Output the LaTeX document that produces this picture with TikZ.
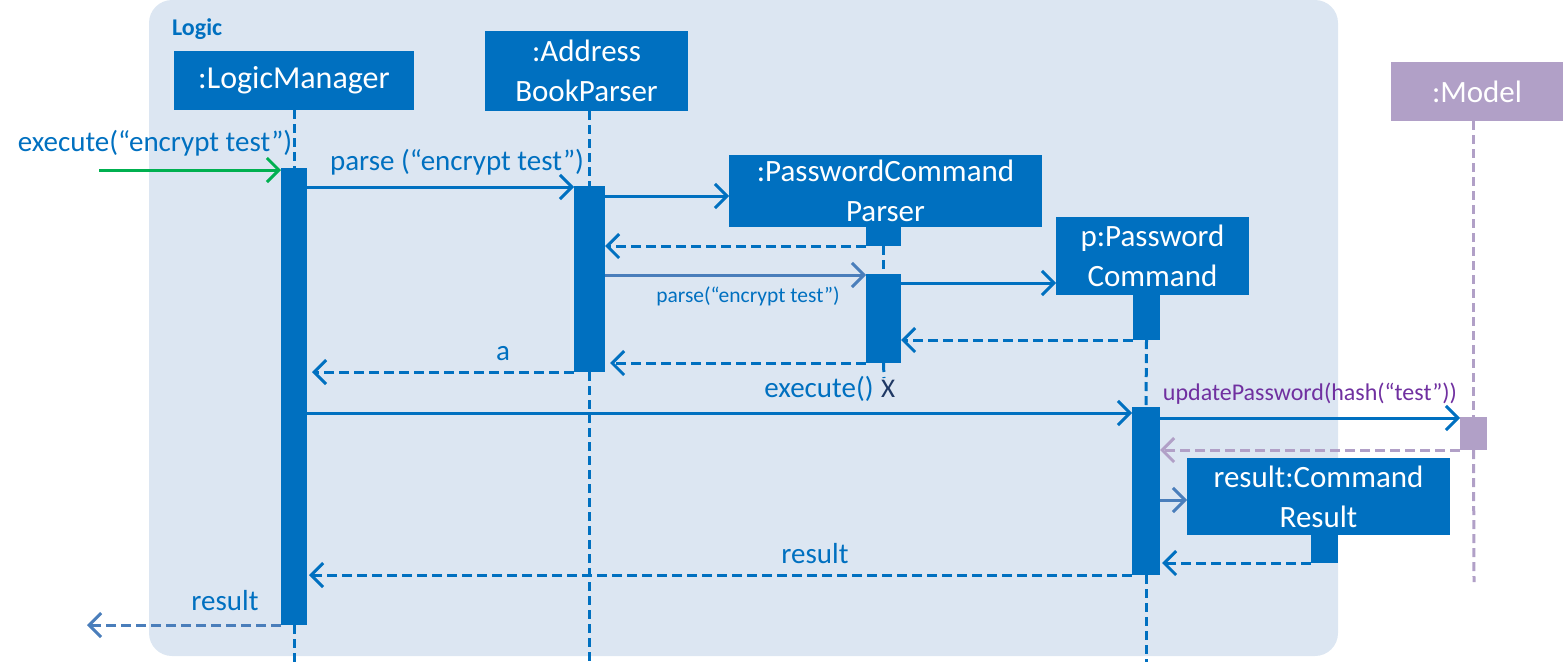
\documentclass[tikz,border=0pt]{standalone}
\usepackage{fontspec}
\setmainfont{Carlito}
\usetikzlibrary{arrows.meta}
\definecolor{ublue}{HTML}{0070C0}
\definecolor{sblue}{HTML}{4A7EBB}
\definecolor{bgc}{HTML}{DCE6F2}
\definecolor{ugreen}{HTML}{00B050}
\definecolor{lav}{HTML}{B1A0C7}
\definecolor{upurple}{HTML}{7030A0}
\definecolor{navyx}{HTML}{1F3864}
\tikzset{
  obj/.style={fill=ublue, text=white, inner sep=0pt, outer sep=0pt, anchor=north west, align=center,
    font=\fontsize{31}{40}\selectfont},
  act/.style={fill=ublue, inner sep=0pt, outer sep=0pt, anchor=north west},
  life/.style={draw=ublue, line width=3pt, dash pattern=on 9pt off 5pt},
  tip/.style={-{Straight Barb[length=12pt,width=24pt,line width=3pt]}},
  msg/.style={draw=ublue, line width=3pt, tip},
  ret/.style={draw=ublue, line width=3pt, dash pattern=on 10pt off 5pt, tip},
  lbl/.style={text=ublue, inner sep=0pt, font=\fontsize{29}{34}\selectfont},
}
\begin{document}
\begin{tikzpicture}[x=1pt,y=-1pt]
\useasboundingbox (0,0) rectangle (1563,662);
\fill[bgc, rounded corners=23pt] (149,0) rectangle (1338,656);
\node[text=ublue, font=\bfseries\fontsize{24}{28}\selectfont, anchor=west, inner sep=0pt] (logic) at (172,29) {Logic};

% objects
\node[obj, minimum width=240pt, minimum height=59pt, font=\fontsize{32}{40}\selectfont] (lm) at (174,51) {:LogicManager};
\node[obj, minimum width=203pt, minimum height=80pt] (abp) at (485,31) {:Address\\BookParser};
\node[obj, minimum width=313pt, minimum height=72pt] (pcp) at (729,155) {:PasswordCommand\\Parser};
\node[obj, minimum width=193pt, minimum height=78pt] (pc) at (1056,217) {p:Password\\Command};
\node[obj, fill=lav, minimum width=172pt, minimum height=59pt] (model) at (1391,62) {:Model};
\node[obj, minimum width=263pt, minimum height=77pt] (cr) at (1187,458) {result:Command\\Result};

% activation bars
\node[act, minimum width=26pt, minimum height=457pt] (lmA) at (281,168) {};
\node[act, minimum width=31pt, minimum height=186pt] (abpA) at (574,186) {};
\node[act, minimum width=35pt, minimum height=19pt] (pcpS) at (866,227) {};
\node[act, minimum width=35pt, minimum height=89pt] (pcpA) at (866,274) {};
\node[act, minimum width=27pt, minimum height=45pt] (pcS) at (1133,295) {};
\node[act, minimum width=28pt, minimum height=168pt] (pcA) at (1132,407) {};
\node[act, fill=lav, minimum width=27pt, minimum height=33pt] (mA) at (1460,417) {};
\node[act, minimum width=27pt, minimum height=28pt] (crS) at (1311,535) {};

\coordinate (bot) at (0,662);
\coordinate (xend) at (884,378);
\coordinate (mend) at (1474,582);
\coordinate (inL) at (99,170);
\coordinate (outL) at (87,625);

% lifelines
\draw[life] (lm.south) -- (lmA.north);
\draw[life] (lmA.south) -- (lmA.south |- bot);
\draw[life] (abp.south -| abpA.north) -- (abpA.north);
\draw[life] (abpA.south) -- (abpA.south |- bot);
\draw[life] (pcpS.south) -- (pcpA.north);
\draw[life] (pcpA.south) -- (xend);
\draw[life] (pcS.south) -- (pcA.north);
\draw[life] (pcA.south) -- (pcA.south |- bot);
\draw[draw=lav, line width=3pt, dash pattern=on 9pt off 5pt] (model.south -| mA.north) -- (mA.north);
\draw[draw=lav, line width=3pt, dash pattern=on 9pt off 5pt] (mA.south) -- (mend);

% messages
\draw[msg, draw=ugreen] (inL) -- (lmA.north west |- inL);
\draw[msg] (lmA.east |- 0,187) -- (abpA.west |- 0,187);
\draw[msg] (abpA.east |- 0,196) -- (pcp.west |- 0,196);
\draw[ret] (pcpS.south west) -- (abpA.east |- pcpS.south west);
\draw[msg, draw=sblue] (abpA.east |- 0,275) -- (pcpA.west |- 0,275);
\draw[msg] (pcpA.east |- 0,283) -- (pc.west |- 0,283);
\draw[ret] (pcS.south west) -- (pcpA.east |- pcS.south west);
\draw[ret] (pcpA.south west) -- ([xshift=5pt]abpA.east |- pcpA.south west);
\draw[ret] (abpA.south west) -- ([xshift=5pt]lmA.east |- abpA.south west);
\draw[msg] (lmA.east |- 0,413) -- (pcA.west |- 0,413);
\draw[msg] (pcA.east |- 0,418) -- (mA.west |- 0,418);
\draw[ret, draw=lav] (mA.south west) -- (pcA.east |- mA.south west);
\draw[msg, draw=sblue] (pcA.east |- 0,500) -- (cr.west |- 0,500);
\draw[ret] (crS.south west) -- ([xshift=2pt]pcA.east |- crS.south west);
\draw[ret] (pcA.south west) -- ([xshift=2pt]lmA.east |- pcA.south west);
\draw[ret, draw=sblue] (lmA.south west) -- (outL);

% labels
\node[lbl] (l1) at (155,143) {execute(“encrypt test”)};
\node[lbl] (l2) at (457,162) {parse (“encrypt test”)};
\node[lbl, font=\fontsize{21.5}{26}\selectfont] (l3) at (748,296) {parse(“encrypt test”)};
\node[lbl] (l4) at (503,354) {a};
\node[lbl] (l5) at (819,389) {execute()};
\node[lbl, text=navyx, font=\fontsize{27}{30}\selectfont] (lx) at (888,389) {X};
\node[lbl, text=upurple, font=\fontsize{24}{30}\selectfont] (l6) at (1310,394) {updatePassword(hash(“test”))};
\node[lbl] (l7) at (815,554) {result};
\node[lbl] (l8) at (225,601) {result};
\end{tikzpicture}
\end{document}
